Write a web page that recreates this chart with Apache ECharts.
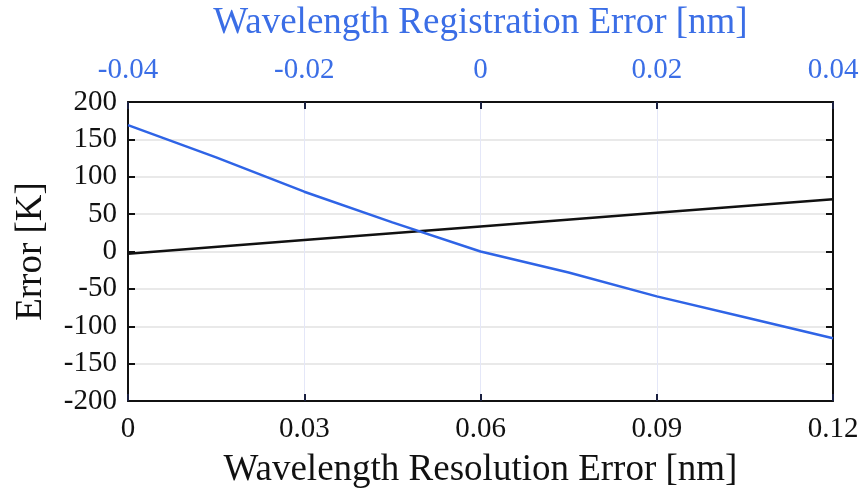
<!DOCTYPE html>
<html>
<head>
<meta charset="utf-8">
<script src="https://cdn.jsdelivr.net/npm/echarts@6/dist/echarts.min.js"></script>
<style>
  html, body { margin: 0; padding: 0; background: #fff; }
  #chart { width: 865px; height: 495px; }
</style>
</head>
<body>
<div id="chart"></div>
<script>
// data
const resolutionX = [0, 0.03, 0.06, 0.09, 0.12];
const resolutionErr = [-3, 15.3, 33.6, 51.8, 70];
const registrationX = [-0.04, -0.03, -0.02, -0.01, 0, 0.01, 0.02, 0.03, 0.04];
const registrationErr = [169, 126, 80, 39, 0, -28, -60, -88, -116];

const font = 'Liberation Serif';
const blue = '#2f64e6';
const blueText = '#3b6ee6';
const fmt = v => v === 0 ? '0' : String(+v.toFixed(2));

const chart = echarts.init(document.getElementById('chart'));

const option = {
  animation: false,
  grid: { left: 128, right: 32, top: 100, bottom: 94, containLabel: false },
  xAxis: [
    {
      type: 'value', position: 'bottom', min: 0, max: 0.12, interval: 0.03,
      name: 'Wavelength Resolution Error [nm]', nameLocation: 'middle', nameGap: 51,
      nameTextStyle: { fontFamily: font, fontSize: 37, color: '#111' },
      axisLine: { show: true, onZero: false, lineStyle: { color: '#111', width: 2 } },
      axisTick: { show: true, inside: true, length: 7, lineStyle: { color: '#1a2040', width: 2 } },
      axisLabel: { fontFamily: font, fontSize: 29, color: '#111', margin: 14, formatter: fmt },
      splitLine: { show: true, lineStyle: { color: '#e4e7f8', width: 1 } }
    },
    {
      type: 'value', position: 'top', min: -0.04, max: 0.04, interval: 0.02,
      name: 'Wavelength Registration Error [nm]', nameLocation: 'middle', nameGap: 60,
      nameTextStyle: { fontFamily: font, fontSize: 37, color: blueText },
      axisLine: { show: true, onZero: false, lineStyle: { color: '#111', width: 2 } },
      axisTick: { show: true, inside: true, length: 7, lineStyle: { color: '#1a2040', width: 2 } },
      axisLabel: { fontFamily: font, fontSize: 29, color: blueText, margin: 17, formatter: fmt },
      splitLine: { show: false }
    }
  ],
  yAxis: [
    {
      type: 'value', position: 'left', min: -200, max: 200, interval: 50,
      name: 'Error [K]', nameLocation: 'middle', nameGap: 78, nameRotate: 90,
      nameTextStyle: { fontFamily: font, fontSize: 37, color: '#111' },
      axisLine: { show: true, onZero: false, lineStyle: { color: '#111', width: 2 } },
      axisTick: { show: true, inside: true, length: 7, lineStyle: { color: '#111', width: 2 } },
      axisLabel: { fontFamily: font, fontSize: 29, color: '#111', margin: 11 },
      splitLine: { show: true, lineStyle: { color: '#e2e2e2', width: 1.5 } }
    },
    {
      type: 'value', position: 'right', min: -200, max: 200, interval: 50,
      axisLine: { show: true, onZero: false, lineStyle: { color: '#111', width: 2 } },
      axisTick: { show: true, inside: true, length: 7, lineStyle: { color: '#111', width: 2 } },
      axisLabel: { show: false },
      splitLine: { show: false }
    }
  ],
  series: [
    {
      type: 'line', xAxisIndex: 0, yAxisIndex: 0, showSymbol: false,
      data: resolutionX.map((x, i) => [x, resolutionErr[i]]),
      lineStyle: { color: '#111', width: 2.5 }
    },
    {
      type: 'line', xAxisIndex: 1, yAxisIndex: 0, showSymbol: false,
      data: registrationX.map((x, i) => [x, registrationErr[i]]),
      lineStyle: { color: blue, width: 2.5 }
    }
  ]
};

chart.setOption(option);
</script>
</body>
</html>
